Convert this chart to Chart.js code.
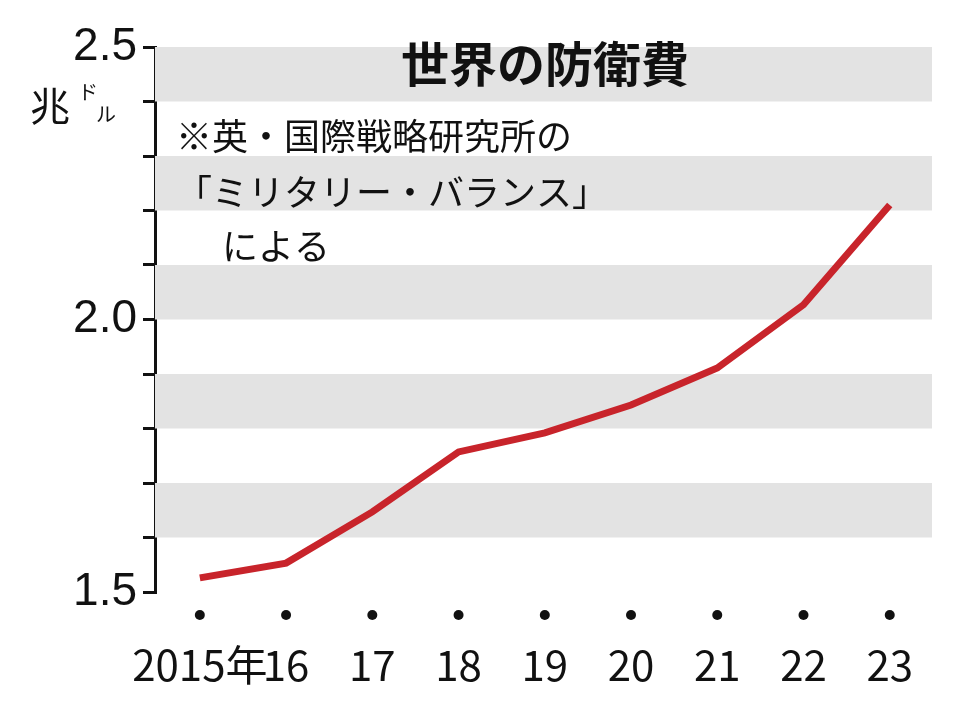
<!DOCTYPE html>
<html>
<head>
<meta charset="utf-8">
<script src="https://cdn.jsdelivr.net/npm/chart.js@4/dist/chart.umd.min.js"></script>
<style>
  html, body { margin: 0; padding: 0; background: #fff; }
  #wrap { width: 960px; height: 714px; }
</style>
</head>
<body>
<div id="wrap"><canvas id="chart" width="960" height="714"></canvas></div>
<script>
// Data
const years = [2015, 2016, 2017, 2018, 2019, 2020, 2021, 2022, 2023];
const yearLabels = ['2015年', '16', '17', '18', '19', '20', '21', '22', '23'];
const spending = [1.526, 1.553, 1.647, 1.757, 1.792, 1.843, 1.911, 2.027, 2.21];
const yTickLabels = ['1.5', '2.0', '2.5'];
const bands = [[2.4, 2.5], [2.2, 2.3], [2.0, 2.1], [1.8, 1.9], [1.6, 1.7]];

const FONT = "'Liberation Sans Narrow', 'Noto Sans CJK JP', sans-serif";
const JP = "'Noto Sans CJK JP', sans-serif";

// gray stripes behind the line
const bandPlugin = {
  id: 'bands',
  beforeDatasetsDraw(chart) {
    const { ctx, chartArea, scales: { y } } = chart;
    ctx.save();
    ctx.fillStyle = '#e3e3e3';
    bands.forEach(([lo, hi]) => {
      const top = y.getPixelForValue(hi);
      const bot = y.getPixelForValue(lo);
      ctx.fillRect(chartArea.left, top, chartArea.right - chartArea.left, bot - top);
    });
    ctx.restore();
  }
};

// title, note, unit and year dots
const textPlugin = {
  id: 'texts',
  afterDraw(chart) {
    const { ctx, scales: { x } } = chart;
    ctx.save();
    ctx.fillStyle = '#111';
    ctx.textBaseline = 'middle';
    ctx.font = `bold 48px ${JP}`;
    ctx.textAlign = 'center';
    ctx.fillText('世界の防衛費', 545, 64);

    ctx.textAlign = 'left';
    ctx.font = `36px ${JP}`;
    ctx.fillText('※英・国際戦略研究所の', 176, 136);
    ctx.fillText('「ミリタリー・バランス」', 176, 192);
    ctx.fillText('による', 222, 246);

    ctx.font = `40px ${JP}`;
    ctx.fillText('兆', 30, 106);
    ctx.font = `20px ${JP}`;
    ctx.fillText('ド', 78, 92);
    ctx.fillText('ル', 96, 114);

    years.forEach(v => {
      ctx.beginPath();
      ctx.arc(x.getPixelForValue(v), 615, 5, 0, Math.PI * 2);
      ctx.fill();
    });
    ctx.restore();
  }
};

new Chart(document.getElementById('chart'), {
  type: 'line',
  data: {
    datasets: [{
      data: years.map((yr, i) => ({ x: yr, y: spending[i] })),
      borderColor: '#c8242b',
      borderWidth: 7,
      pointRadius: 0,
      tension: 0,
      fill: false
    }]
  },
  options: {
    responsive: false,
    animation: false,
    layout: { padding: { top: 47, right: 28, left: 0, bottom: 0 } },
    plugins: { legend: { display: false }, tooltip: { enabled: false } },
    scales: {
      x: {
        type: 'linear',
        min: 2014.48,
        max: 2023.49,
        afterFit: s => { s.height = 122; s.paddingLeft = 0; s.paddingRight = 0; },
        afterBuildTicks: s => { s.ticks = years.map(v => ({ value: v })); },
        grid: { display: false },
        border: { display: false },
        ticks: {
          autoSkip: false,
          maxRotation: 0,
          minRotation: 0,
          padding: 40,
          color: '#111',
          font: { family: FONT, size: 42 },
          callback: v => yearLabels[years.indexOf(v)]
        }
      },
      y: {
        min: 1.5,
        max: 2.5,
        afterFit: s => { s.width = 155; },
        grid: { drawOnChartArea: false, color: '#111', tickLength: 12, lineWidth: 3 },
        border: { display: true, color: '#111', width: 3 },
        ticks: {
          autoSkip: false,
          stepSize: 0.1,
          padding: 6,
          color: '#111',
          font: { family: "'Liberation Sans', sans-serif", size: 46 },
          callback: v => {
            const s = v.toFixed(1);
            return yTickLabels.includes(s) ? s : '';
          }
        }
      }
    }
  },
  plugins: [bandPlugin, textPlugin]
});
</script>
</body>
</html>
